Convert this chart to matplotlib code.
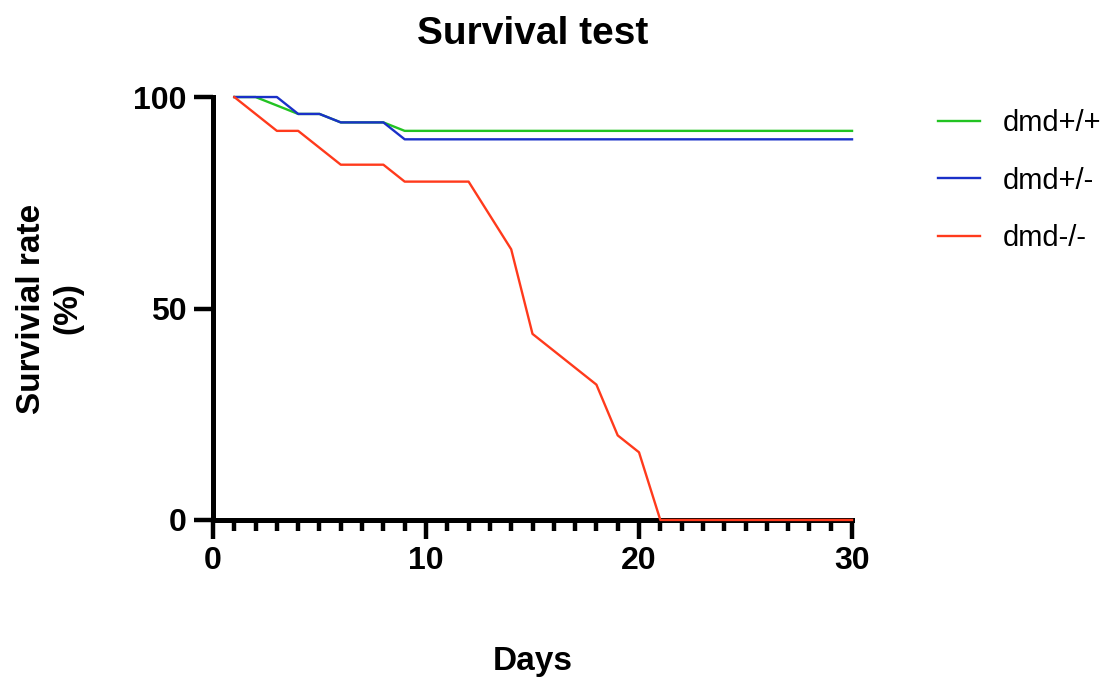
import matplotlib
matplotlib.use("Agg")
import matplotlib.pyplot as plt
from matplotlib.ticker import MultipleLocator

plt.rcParams["font.family"] = ["Liberation Sans", "DejaVu Sans"]

# survival curves, vertices (day, % alive)
wt_days = [1, 2, 4, 5, 6, 8, 9, 30]
wt_rate = [100, 100, 96, 96, 94, 94, 92, 92]

het_days = [1, 3, 4, 5, 6, 8, 9, 30]
het_rate = [100, 100, 96, 96, 94, 94, 90, 90]

ko_days = [1, 3, 4, 6, 8, 9, 12, 14, 15, 18, 19, 20, 21, 30]
ko_rate = [100, 92, 92, 84, 84, 80, 80, 64, 44, 32, 20, 16, 0, 0]

labels = ["dmd+/+", "dmd+/-", "dmd-/-"]
colors = ["#22c322", "#1a30c8", "#ff3a1c"]

fig = plt.figure(figsize=(11.11, 6.79), dpi=100)
ax = fig.add_axes([0.1917, 0.2342, 0.5752, 0.6229])

series = [(wt_days, wt_rate), (het_days, het_rate), (ko_days, ko_rate)]
for (d, r), lab, c in zip(series, labels, colors):
    ax.plot(d, r, color=c, lw=1.7, label=lab, clip_on=False, zorder=5)

ax.set_xlim(0, 30)
ax.set_ylim(0, 100)
ax.set_xticks([0, 10, 20, 30])
ax.xaxis.set_minor_locator(MultipleLocator(1))
ax.set_yticks([0, 50, 100])

for side in ["top", "right"]:
    ax.spines[side].set_visible(False)
for side in ["left", "bottom"]:
    ax.spines[side].set_linewidth(3.6)

ax.tick_params(axis="both", which="major", length=14, width=3.2, labelsize=23, pad=5)
ax.tick_params(axis="x", which="minor", length=8, width=3.2)
for t in ax.get_xticklabels() + ax.get_yticklabels():
    t.set_fontweight("bold")

ax.set_title("Survival test", fontsize=28, fontweight="bold", pad=38)
ax.set_xlabel("Days", fontsize=24, fontweight="bold", labelpad=50)
ax.set_ylabel("Survivial rate\n(%)", fontsize=24, fontweight="bold", labelpad=36)

ax.legend(loc="upper left", bbox_to_anchor=(1.111, 1.005), frameon=False,
          fontsize=21, handlelength=1.45, handletextpad=0.8, labelspacing=1.0,
          borderpad=0)

fig.savefig("out.png", dpi=100)
